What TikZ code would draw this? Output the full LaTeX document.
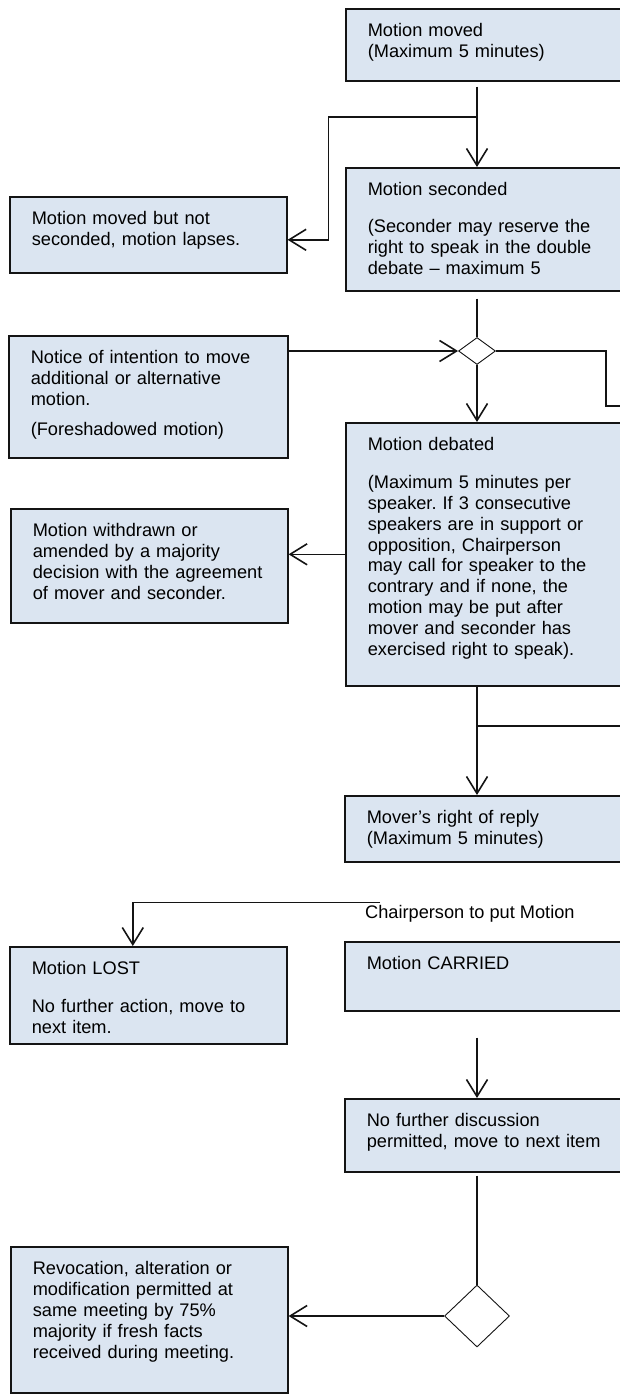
\documentclass[tikz,border=0pt]{standalone}
\usepackage{fontspec}
\setmainfont{Liberation Sans}
\usepackage{tikz}
\usetikzlibrary{shapes.geometric,arrows.meta,positioning,calc}
\definecolor{boxfill}{RGB}{219, 229, 241}
\definecolor{boxline}{RGB}{20, 20, 20}
\frenchspacing

\begin{document}
\begin{tikzpicture}[
    x=1pt, y=-1pt,
    box/.style={rectangle, draw=boxline, fill=boxfill, line width=1.6pt, anchor=north west, inner xsep=22pt, inner ysep=0pt, align=left, text height=28pt, font=\fontsize{18.2}{20.8}\selectfont},
    rightbox/.style={box, text width=261pt},
    leftbox/.style={box, text width=233pt},
    decision/.style={diamond, draw=boxline, fill=white, line width=0.9pt, inner sep=0pt},
    conn/.style={line width=1.6pt, boxline},
    arrow/.style={conn, -{Straight Barb[length=17pt, width=21pt, line width=1.6pt]}}
]
\useasboundingbox (0,0) rectangle (620,1394);

% Right column
\node[rightbox, text depth=44pt] (moved) at (345,8) {Motion moved\\(Maximum 5 minutes)};
\node[rightbox, text depth=95pt] (seconded) at (345,167) {Motion seconded\\[16pt](Seconder may reserve the\\right to speak in the double\\debate – maximum 5};
\node[decision, minimum width=37pt, minimum height=27pt] (d1) at (477,351) {};
\node[rightbox, text depth=235pt] (debated) at (345,422) {Motion debated\\[17pt](Maximum 5 minutes per\\speaker. If 3 consecutive\\speakers are in support or\\opposition, Chairperson\\may call for speaker to the\\contrary and if none, the\\motion may be put after\\mover and seconder has\\exercised right to speak).};
\node[rightbox, text depth=38pt] (reply) at (344,795) {Mover’s right of reply\\(Maximum 5 minutes)};
\node[anchor=base west, inner sep=0pt, font=\fontsize{18.2}{20.8}\selectfont] (chair) at (365,918) {Chairperson to put Motion};
\node[rightbox, text depth=41pt] (carried) at (344,941) {Motion CARRIED};
\node[rightbox, text depth=45pt] (nofurther) at (344,1098) {No further discussion\\permitted, move to next item};
\node[decision, minimum width=65pt, minimum height=62pt] (d2) at (477,1316) {};

% Left column
\node[leftbox, text depth=48pt] (notseconded) at (9,196) {Motion moved but not\\seconded, motion lapses.};
\node[leftbox, text width=235pt, text depth=94pt] (notice) at (8,335) {Notice of intention to move\\additional or alternative\\motion.\\[9pt](Foreshadowed motion)};
\node[leftbox, text depth=86pt] (withdrawn) at (10,508) {Motion withdrawn or\\amended by a majority\\decision with the agreement\\of mover and seconder.};
\node[leftbox, text depth=69pt] (lost) at (9,946) {Motion LOST\\[17pt]No further action, move to\\next item.};
\node[leftbox, text depth=118pt] (revocation) at (10,1246) {Revocation, alteration or\\modification permitted at\\same meeting by 75\%\\majority if fresh facts\\received during meeting.};

% Off-page ends
\coordinate (split1) at (477,117);
\coordinate (off1) at (650,406);
\coordinate (off2) at (650,726);

% Connectors
\draw[arrow] ($(moved.south -| d1)+(0,5)$) -- (seconded.north -| d1);
\draw[arrow] (split1) -| ([xshift=41pt, yshift=-5pt]notseconded.east) -- ([yshift=-5pt]notseconded.east);
\draw[conn] ($(seconded.south -| d1)+(0,7)$) -- (d1.north);
\draw[arrow] (notice.east |- d1.west) -- (d1.west);
\draw[conn] (d1.east) -- ++(110,0) |- (off1);
\draw[arrow] (d1.south) -- (debated.north -| d1);
\draw[arrow] (debated.west) -- (debated.west -| withdrawn.east);
\draw[arrow] (debated.south -| d1) -- (reply.north -| d1);
\draw[conn] (off2 -| d1) -- (off2);
\draw[arrow] ([xshift=15pt, yshift=2pt]chair.north west) -| ([xshift=-15.5pt]lost.north);
\draw[arrow] ($(carried.south -| d1)+(0,26)$) -- (nofurther.north -| d1);
\draw[conn] ($(nofurther.south -| d2)+(0,3)$) -- (d2.north);
\draw[arrow] (d2.west) -- (d2.west -| revocation.east);

\end{tikzpicture}
\end{document}
